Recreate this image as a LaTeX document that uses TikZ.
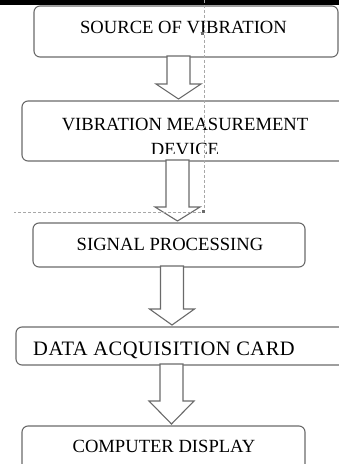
\documentclass[tikz,border=0pt]{standalone}
\usepackage{fontspec}
\setmainfont{Liberation Serif}
\definecolor{boxline}{HTML}{6A6A6A}
\definecolor{guide}{HTML}{A8A8A8}

\tikzset{
  stage/.style={draw=boxline, line width=1.1pt, rounded corners=6pt, fill=white,
    inner sep=0pt, outer sep=0pt},
  caption/.style={anchor=base, inner sep=0pt, font=\fontsize{18.6}{25}\selectfont},
  flowarrow/.style={draw=boxline, line width=1.1pt, fill=white, line join=miter},
  guideline/.style={draw=guide, line width=0.8pt, dash pattern=on 3pt off 2pt}
}

% hollow block arrow: #1 head length, #2 x position, #3 from, #4 to
\newcommand{\blockarrow}[4][15]{%
  \coordinate (t) at (#2 |- #3.south);
  \coordinate (h) at ([yshift=2pt]#2 |- #4.north);
  \draw[flowarrow] ([xshift=-11.5pt,yshift=1pt]t) -- ([xshift=-11.5pt,yshift=#1pt]h)
    -- ([xshift=-22.5pt,yshift=#1pt]h) -- (h) -- ([xshift=22.5pt,yshift=#1pt]h)
    -- ([xshift=11.5pt,yshift=#1pt]h) -- ([xshift=11.5pt,yshift=1pt]t) -- cycle;
}

\begin{document}
\begin{tikzpicture}[x=1pt, y=-1pt]
  \useasboundingbox (0,0) rectangle (339,464);
  \clip (0,0) rectangle (339,464);
  \fill[black] (0,0) rectangle (339,4.5);

  \node[stage, minimum width=304pt, minimum height=51pt] (src)  at (186,31.5) {};
  \node[stage, minimum width=326pt, minimum height=60pt] (meas) at (185,131) {};
  \node[stage, minimum width=272pt, minimum height=44pt] (sig)  at (169,245) {};
  \node[stage, minimum width=334pt, minimum height=38pt] (daq)  at (183,346) {};
  \node[stage, minimum width=283pt, minimum height=50pt] (disp) at (163.5,451) {};

  \node[caption] (src-t) at (183.5,33) {SOURCE OF VIBRATION};
  \begin{scope}
    \clip (0,100) rectangle (339,153);
    \node[caption, align=center] (meas-t) at (185,155) {VIBRATION MEASUREMENT\\DEVICE};
  \end{scope}
  \node[caption] (sig-t) at (170,250) {SIGNAL PROCESSING};
  \node[caption, font=\fontsize{20.5}{25}\selectfont\addfontfeature{LetterSpace=2.5}]
    (daq-t) at (164,355) {DATA ACQUISITION CARD};
  \node[caption] (disp-t) at (164,452) {COMPUTER DISPLAY};

  \blockarrow{178.5,0}{src}{meas}
  \blockarrow[14]{177.5,0}{meas}{sig}
  \blockarrow[16]{172,0}{sig}{daq}
  \blockarrow[23]{171.5,0}{daq}{disp}

  \coordinate (g1) at (204,0);
  \coordinate (g2) at (204,212);
  \coordinate (g3) at (14,212);
  \draw[guideline] (g1) -- (g2) -- (g3);
  \fill[boxline] (201,32) rectangle (203.5,34.5);
  \fill[boxline] (202,210) rectangle (204.5,212.5);
\end{tikzpicture}
\end{document}
